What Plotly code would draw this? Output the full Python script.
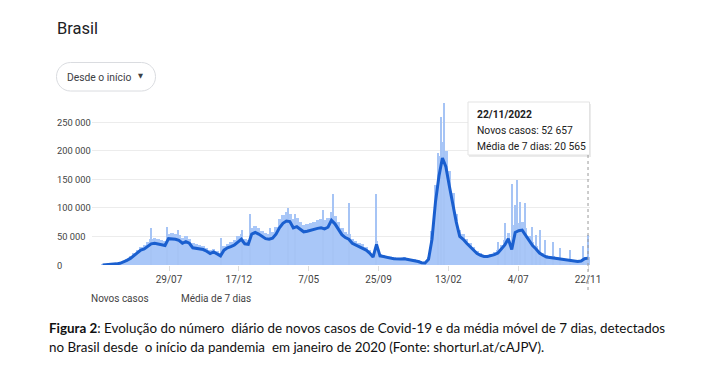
import pandas as pd
import plotly.graph_objects as go

# ---------------- data (thousands of cases) ----------------
week_start = "2020-03-17"   # weekly samples, every 7 days, ending 2022-11-22
media_7d = [
    0.1, 0.3, 0.8, 1.2, 2.0, 3.0, 5.0, 8.0, 11.5, 16,
    21, 26, 28, 32, 37, 38, 37, 36, 34, 46,
    46, 45, 43, 38, 41, 38, 30, 29, 28, 27,
    24, 20, 23, 19, 16, 26, 30, 32, 35, 40,
    45, 37, 36, 54, 57, 54, 50, 46, 45, 47,
    54, 65, 73, 77, 76, 65, 67, 62, 58, 59,
    61, 62, 64, 65, 63, 66, 78, 72, 62, 53,
    48, 45, 38, 35, 32, 30, 26, 21, 14, 36,
    16, 15, 13, 12, 11, 10.5, 10.5, 11, 10, 9,
    8, 6, 4, 3.5, 10, 45, 110, 155, 187, 172,
    138, 105, 75, 50, 45, 38, 32, 26, 20, 17,
    15, 15, 16, 18, 21, 28, 35, 46, 27, 57,
    60, 61, 52, 42, 34, 28, 21, 17, 14, 13,
    12, 11, 10, 9, 9, 8, 7, 6, 7, 11,
    12,
]
novos_casos = [
    0.2, 0.5, 1.2, 1.8, 3, 4.5, 7, 11, 15, 21,
    27, 32, 35, 40, 45, 47, 46, 44, 42, 55,
    56, 55, 52, 47, 50, 46, 38, 36, 35, 33,
    30, 26, 28, 24, 21, 33, 37, 40, 44, 51,
    55, 46, 44, 64, 68, 64, 60, 56, 55, 58,
    66, 80, 88, 92, 90, 80, 82, 75, 70, 72,
    74, 76, 78, 80, 78, 82, 92, 86, 75, 64,
    58, 54, 46, 42, 39, 36, 31, 26, 18, 42,
    20, 18, 16, 15, 14, 13, 13, 14, 12, 11,
    10, 8, 5, 5, 14, 60, 140, 190, 215, 200,
    165, 126, 90, 62, 55, 46, 39, 31, 25, 21,
    18, 18, 20, 23, 27, 35, 44, 56, 33, 70,
    74, 75, 64, 51, 41, 34, 26, 21, 17, 16,
    15, 14, 12, 11, 11, 10, 9, 8, 9, 14,
    14,
]
pico_datas = [
    "2020-06-23", "2020-07-25", "2020-08-16", "2020-11-12", "2020-12-23",
    "2021-01-09", "2021-02-17", "2021-03-26", "2021-04-09", "2021-06-05",
    "2021-06-25", "2021-07-27", "2021-09-20", "2022-01-23", "2022-01-29",
    "2022-02-04", "2022-05-24", "2022-06-07", "2022-06-22", "2022-06-27",
    "2022-07-02", "2022-07-07", "2022-07-17", "2022-07-31", "2022-08-10",
    "2022-08-17", "2022-08-27", "2022-09-12", "2022-09-26", "2022-10-16",
    "2022-11-11", "2022-11-22",
]
pico_valores = [
    64, 66, 61, 47, 61,
    88.6, 64, 99, 90, 96,
    124, 108, 124, 195, 259,
    284, 41, 73, 141, 105,
    148, 111, 108, 67, 52.5,
    61, 44, 40, 29, 26,
    34, 52.657,
]
tick_datas = ["2020-07-29", "2020-12-17", "2021-05-07", "2021-09-25",
              "2022-02-13", "2022-07-04", "2022-11-22"]
tick_textos = ["29/07", "17/12", "7/05", "25/09", "13/02", "4/07", "22/11"]
y_ticks = [0, 50000, 100000, 150000, 200000, 250000]
y_textos = ["0", "50 000", "100 000", "150 000", "200 000", "250 000"]
tooltip_linhas = ["<b>22/11/2022</b>", "Novos casos: 52 657", "Média de 7 dias: 20 565"]

datas = pd.date_range(week_start, periods=len(media_7d), freq="7D")
media_v = [v * 1000 for v in media_7d]
casos_v = [v * 1000 for v in novos_casos]
pico_v = [v * 1000 for v in pico_valores]

# ---------------- geometry helpers (pixels -> paper) ----------------
W, H = 708, 366
L, R, T, B = 92, 590, 100, 265
PW, PH = R - L, B - T


def px(x):
    return (x - L) / PW


def py(y):
    return (B - y) / PH


DAY = 86400000
FILL = "#a9c7f8"
LINE = "#1a5fcf"
FONT = "Roboto, Arial, sans-serif"

fig = go.Figure()
fig.add_trace(go.Bar(x=datas, y=casos_v, width=7 * DAY, marker=dict(color=FILL, line=dict(width=0)),
                     name="Novos casos", hoverinfo="skip"))
fig.add_trace(go.Bar(x=pd.to_datetime(pico_datas), y=pico_v, width=2.2 * DAY,
                     marker=dict(color="#a6c4f5", line=dict(width=0)), hoverinfo="skip", showlegend=False))
fig.add_trace(go.Scatter(x=datas, y=media_v, mode="lines", line=dict(color=LINE, width=3),
                         name="Média de 7 dias", hoverinfo="skip"))

fig.update_layout(
    width=W, height=H,
    margin=dict(l=L, r=W - R, t=T, b=H - B, pad=0),
    paper_bgcolor="white", plot_bgcolor="white",
    showlegend=False, barmode="overlay", bargap=0,
    font=dict(family=FONT, color="#444", size=10),
)
fig.update_xaxes(
    range=["2020-02-24 12:00", "2022-11-26"], type="date",
    tickvals=pd.to_datetime(tick_datas), ticktext=tick_textos,
    ticks="outside", ticklen=5, tickcolor="#dddddd", showgrid=False, zeroline=False,
    showline=False, tickfont=dict(size=10, color="#444"),
)
fig.update_yaxes(
    range=[0, PH / 0.572 * 1000], tickvals=y_ticks, showticklabels=False,
    showgrid=True, gridcolor="#ececec", gridwidth=1, zeroline=False, showline=False,
)

ann = []
# y tick labels (left aligned)
for v, t in zip(y_ticks, y_textos):
    ann.append(dict(xref="paper", yref="y", x=px(55), y=v, text=t, showarrow=False,
                    xanchor="left", yanchor="middle", font=dict(size=9.3, color="#444", family=FONT)))
# title
ann.append(dict(xref="paper", yref="paper", x=px(55), y=py(28), text="Brasil", showarrow=False,
                xanchor="left", yanchor="middle", font=dict(size=16.5, color="#202124", family=FONT)))
# dropdown label
ann.append(dict(xref="paper", yref="paper", x=px(65), y=py(77), text="Desde o início", showarrow=False,
                xanchor="left", yanchor="middle", font=dict(size=10.3, color="#3c4043", family=FONT)))
ann.append(dict(xref="paper", yref="paper", x=px(140), y=py(76), text="▼", showarrow=False,
                xanchor="center", yanchor="middle", font=dict(size=6.5, color="#3c4043", family="DejaVu Sans")))
# legend text
ann.append(dict(xref="paper", yref="paper", x=px(89), y=py(298), text="Novos casos", showarrow=False,
                xanchor="left", yanchor="middle", font=dict(size=10, color="#444", family=FONT)))
ann.append(dict(xref="paper", yref="paper", x=px(179), y=py(298), text="Média de 7 dias", showarrow=False,
                xanchor="left", yanchor="middle", font=dict(size=10, color="#444", family=FONT)))
# tooltip text
for i, t in enumerate(tooltip_linhas):
    ann.append(dict(xref="paper", yref="paper", x=px(475), y=py(114 + 16 * i), align="left",
                    text=t, showarrow=False, xanchor="left", yanchor="middle",
                    font=dict(size=10.3, color="#222", family=FONT)))
# caption
CAP = "Lato, Carlito, Calibri, sans-serif"
ann.append(dict(xref="paper", yref="paper", x=px(47), y=py(328),
                text="<b>Figura 2</b>: Evolução do número  diário de novos casos de Covid-19 e da média móvel de 7 dias, detectados",
                showarrow=False, xanchor="left", yanchor="middle", font=dict(size=13.4, color="#111", family=CAP)))
ann.append(dict(xref="paper", yref="paper", x=px(47), y=py(347),
                text="no Brasil desde  o início da pandemia  em janeiro de 2020 (Fonte: shorturl.at/cAJPV).",
                showarrow=False, xanchor="left", yanchor="middle", font=dict(size=13.4, color="#111", family=CAP)))
fig.update_layout(annotations=ann)


def pill(x0, y0, x1, y1, r):
    k = 0.5523 * r
    pts = [
        f"M {px(x0 + r)} {py(y0)}",
        f"L {px(x1 - r)} {py(y0)}",
        f"C {px(x1 - r + k)} {py(y0)} {px(x1)} {py(y0 + r - k)} {px(x1)} {py(y0 + r)}",
        f"L {px(x1)} {py(y1 - r)}",
        f"C {px(x1)} {py(y1 - r + k)} {px(x1 - r + k)} {py(y1)} {px(x1 - r)} {py(y1)}",
        f"L {px(x0 + r)} {py(y1)}",
        f"C {px(x0 + r - k)} {py(y1)} {px(x0)} {py(y1 - r + k)} {px(x0)} {py(y1 - r)}",
        f"L {px(x0)} {py(y0 + r)}",
        f"C {px(x0)} {py(y0 + r - k)} {px(x0 + r - k)} {py(y0)} {px(x0 + r)} {py(y0)} Z",
    ]
    return " ".join(pts)


shapes = [
    dict(type="path", xref="paper", yref="paper", path=pill(56.5, 62.5, 155.5, 91, 14),
         line=dict(color="#dadce0", width=1), fillcolor="white", layer="above"),
    # tooltip shadow + box
    dict(type="rect", xref="paper", yref="paper", x0=px(469), x1=px(591), y0=py(104), y1=py(157),
         line=dict(width=0), fillcolor="rgba(0,0,0,0.08)", layer="above"),
    dict(type="rect", xref="paper", yref="paper", x0=px(468), x1=px(589.5), y0=py(102), y1=py(155),
         line=dict(color="#e3e3e3", width=1), fillcolor="white", layer="above"),
    # hover line
    dict(type="line", xref="x", yref="paper", x0="2022-11-22", x1="2022-11-22", y0=py(155), y1=py(291),
         line=dict(color="#9a9a9a", width=1, dash="dot"), layer="above"),
]
fig.update_layout(shapes=shapes)

fig.write_html("out.html", config={"displayModeBar": False})
